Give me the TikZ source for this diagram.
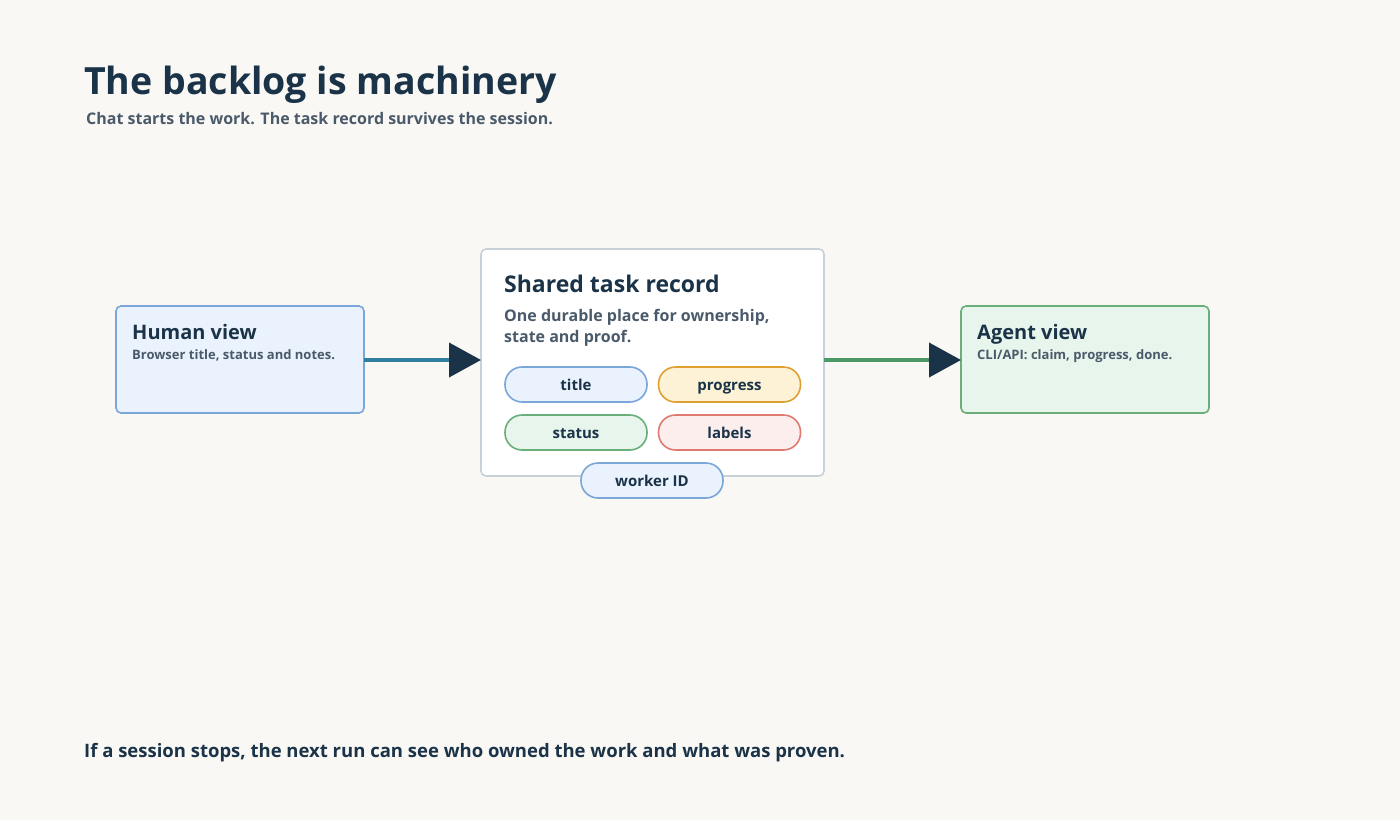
\documentclass[tikz,border=0pt]{standalone}
\usepackage{fontspec}
\setmainfont{Open Sans}
\usetikzlibrary{arrows.meta}
\definecolor{bg}{HTML}{F9F8F4}
\definecolor{navy}{HTML}{1A3348}
\definecolor{sub}{HTML}{4A5A6A}
\definecolor{bfill}{HTML}{EAF3FD}\definecolor{bline}{HTML}{7BA6D8}
\definecolor{gfill}{HTML}{E8F5EC}\definecolor{gline}{HTML}{6AAF7A}
\definecolor{yfill}{HTML}{FDF2D6}\definecolor{yline}{HTML}{E0A030}
\definecolor{rfill}{HTML}{FDEEEE}\definecolor{rline}{HTML}{E07A70}
\definecolor{cline}{HTML}{C8D0D8}
\definecolor{barrow}{HTML}{2E7FA0}\definecolor{garrow}{HTML}{4A9A68}
\begin{document}
\begin{tikzpicture}[x=1pt,y=-1pt,
  txt/.style={anchor=base west,inner sep=0,text=navy},
  pill/.style={draw,line width=1.6pt,rounded corners=17pt,minimum width=142pt,minimum height=35pt,inner sep=0,text height=12pt,text depth=1pt,font=\fontsize{15}{18}\selectfont\bfseries,text=navy},
  box/.style={line width=1.6pt,rounded corners=5pt},
  conn/.style={line width=4pt,-{Triangle[length=32pt,width=34pt,fill=navy,color=navy]}}]
\fill[bg] (0,0) rectangle (1400,820);
\useasboundingbox (0,0) rectangle (1400,820);
\node[txt,font=\fontsize{37.5}{40}\selectfont\bfseries] (t) at (84,94) {The backlog is machinery};
\node[txt,text=sub,font=\fontsize{16}{18}\selectfont\bfseries] (s) at (86,124) {Chat starts the work. The task record survives the session.};
% human
\draw[box,fill=bfill,draw=bline] (116,306) rectangle (364,413);
\coordinate (hR) at (364,360);
\node[txt,font=\fontsize{20}{22}\selectfont\bfseries] (h1) at (132,339) {Human view};
\node[txt,text=sub,font=\fontsize{13}{15}\selectfont\bfseries] (h2) at (132,359) {Browser title, status and notes.};
% center
\draw[box,fill=white,draw=cline] (481,249) rectangle (824,476);
\coordinate (cL) at (481,360);\coordinate (cR) at (824,360);
\node[txt,font=\fontsize{23}{26}\selectfont\bfseries] (c1) at (504,292) {Shared task record};
\node[txt,text=sub,font=\fontsize{16}{18}\selectfont\bfseries] (c2) at (504,321) {One durable place for ownership,};
\node[txt,text=sub,font=\fontsize{16}{18}\selectfont\bfseries] (c3) at (504,342) {state and proof.};
\node[pill,fill=bfill,draw=bline] (p1) at (576,384.5) {title};
\node[pill,fill=yfill,draw=yline] (p2) at (729.5,384.5) {progress};
\node[pill,fill=gfill,draw=gline] (p3) at (576,432.5) {status};
\node[pill,fill=rfill,draw=rline] (p4) at (729.5,432.5) {labels};
\node[pill,fill=bfill,draw=bline] (p5) at (652,480.5) {worker ID};
% agent
\draw[box,fill=gfill,draw=gline] (961,306) rectangle (1209,413);
\coordinate (aL) at (961,360);
\node[txt,font=\fontsize{20}{22}\selectfont\bfseries] (a1) at (977,339) {Agent view};
\node[txt,text=sub,font=\fontsize{13}{15}\selectfont\bfseries] (a2) at (977,359) {CLI/API: claim, progress, done.};
\draw[conn,barrow] (hR) -- (cL);
\draw[conn,garrow] (cR) -- (aL);
\node[txt,font=\fontsize{18.5}{20}\selectfont\bfseries] (b) at (84,757) {If a session stops, the next run can see who owned the work and what was proven.};
\end{tikzpicture}
\end{document}
